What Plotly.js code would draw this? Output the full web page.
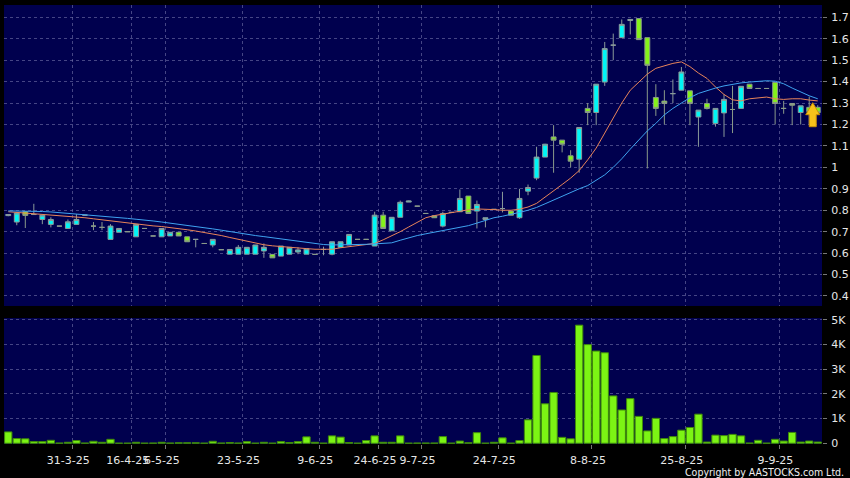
<!DOCTYPE html>
<html><head><meta charset="utf-8">
<script src="https://cdn.plot.ly/plotly-3.0.1.min.js"></script>
<style>html,body{margin:0;padding:0;background:#000;overflow:hidden}#chart{width:850px;height:478px}</style>
</head><body><div id="chart"></div>
<script>
// ---- data ----
const opens  = [0.775,0.745,0.793,0.78,0.757,0.734,0.726,0.715,0.734,0.777,0.726,0.72,0.664,0.697,0.70,0.676,0.715,0.68,0.676,0.68,0.697,0.676,0.664,0.645,0.638,0.616,0.595,0.595,0.595,0.595,0.61,0.594,0.586,0.595,0.605,0.595,0.594,0.617,0.595,0.627,0.638,0.664,0.664,0.633,0.777,0.704,0.767,0.838,0.819,0.785,0.774,0.726,0.79,0.793,0.866,0.796,0.757,0.804,0.808,0.796,0.765,0.889,0.95,1.048,1.142,1.127,1.054,1.038,1.275,1.256,1.398,1.57,1.605,1.685,1.694,1.605,1.326,1.309,1.344,1.36,1.357,1.235,1.298,1.205,1.254,1.27,1.275,1.388,1.368,1.368,1.396,1.275,1.298,1.256,1.28,1.28];
const highs  = [0.782,0.79,0.795,0.83,0.777,0.767,0.726,0.757,0.782,0.777,0.745,0.745,0.735,0.715,0.70,0.734,0.715,0.68,0.715,0.697,0.697,0.676,0.664,0.645,0.664,0.616,0.617,0.638,0.627,0.638,0.645,0.594,0.633,0.627,0.627,0.62,0.594,0.63,0.653,0.653,0.687,0.664,0.664,0.793,0.793,0.767,0.845,0.845,0.819,0.785,0.774,0.793,0.79,0.897,0.866,0.845,0.765,0.804,0.886,0.796,0.9,0.92,1.096,1.11,1.197,1.127,1.08,1.186,1.3,1.388,1.585,1.624,1.69,1.69,1.694,1.605,1.388,1.36,1.41,1.468,1.357,1.267,1.32,1.275,1.34,1.38,1.378,1.388,1.368,1.368,1.396,1.31,1.298,1.287,1.33,1.29];
const lows   = [0.772,0.73,0.717,0.78,0.735,0.72,0.726,0.715,0.734,0.777,0.707,0.707,0.664,0.697,0.70,0.676,0.715,0.68,0.676,0.68,0.68,0.653,0.627,0.645,0.627,0.616,0.595,0.595,0.595,0.595,0.578,0.578,0.586,0.595,0.595,0.595,0.594,0.59,0.59,0.627,0.638,0.664,0.664,0.633,0.715,0.704,0.767,0.838,0.819,0.785,0.765,0.72,0.79,0.793,0.785,0.715,0.72,0.804,0.79,0.777,0.76,0.87,0.94,1.048,0.975,1.07,1.0,0.975,1.197,1.197,1.38,1.5,1.605,1.62,1.596,0.995,1.24,1.2,1.30,1.36,1.197,1.096,1.27,1.19,1.142,1.16,1.275,1.368,1.368,1.368,1.2,1.25,1.197,1.2,1.2,1.25];
const closes = [0.78,0.787,0.776,0.78,0.777,0.757,0.726,0.746,0.757,0.777,0.726,0.72,0.726,0.715,0.70,0.734,0.715,0.68,0.715,0.697,0.68,0.653,0.664,0.645,0.664,0.616,0.617,0.627,0.627,0.638,0.627,0.578,0.633,0.627,0.615,0.62,0.594,0.617,0.653,0.653,0.687,0.664,0.664,0.777,0.715,0.767,0.837,0.843,0.819,0.785,0.765,0.785,0.79,0.855,0.785,0.827,0.765,0.804,0.808,0.777,0.855,0.906,1.048,1.108,1.127,1.108,1.029,1.186,1.256,1.388,1.554,1.57,1.667,1.69,1.596,1.476,1.275,1.298,1.344,1.445,1.298,1.267,1.275,1.275,1.317,1.27,1.378,1.368,1.368,1.368,1.298,1.275,1.29,1.287,1.26,1.255];
const volumeK = [0.46,0.19,0.18,0.07,0.07,0.12,0.01,0.04,0.11,0.01,0.08,0.04,0.16,0.005,0.005,0.04,0.005,0.01,0.04,0.01,0.02,0.02,0.02,0.005,0.08,0.01,0.03,0.01,0.07,0.005,0.04,0.005,0.07,0.03,0.07,0.26,0.04,0.005,0.3,0.25,0.03,0.005,0.11,0.3,0.04,0.04,0.3,0.005,0.01,0.01,0.01,0.27,0.005,0.09,0.02,0.43,0.005,0.04,0.22,0.005,0.11,0.95,3.56,1.6,2.06,0.24,0.18,4.79,4.0,3.74,3.67,1.92,1.35,1.81,1.09,0.5,1.01,0.19,0.27,0.53,0.64,1.18,0.05,0.33,0.31,0.36,0.3,0.01,0.12,0.005,0.16,0.09,0.44,0.05,0.09,0.05];
const maShort = [0.793,0.79,0.787,0.785,0.782,0.779,0.776,0.773,0.77,0.765,0.76,0.755,0.75,0.746,0.74,0.735,0.73,0.727,0.724,0.72,0.715,0.709,0.703,0.697,0.69,0.682,0.673,0.664,0.655,0.647,0.639,0.634,0.63,0.627,0.624,0.621,0.618,0.617,0.618,0.625,0.63,0.635,0.638,0.645,0.662,0.68,0.70,0.722,0.745,0.765,0.775,0.782,0.79,0.796,0.802,0.806,0.806,0.803,0.80,0.80,0.805,0.815,0.832,0.86,0.89,0.92,0.95,0.985,1.035,1.09,1.16,1.23,1.30,1.36,1.40,1.435,1.462,1.475,1.485,1.492,1.47,1.44,1.415,1.375,1.34,1.315,1.31,1.32,1.325,1.328,1.32,1.317,1.32,1.32,1.314,1.31];
const maLong = [0.797,0.797,0.796,0.795,0.794,0.792,0.789,0.786,0.783,0.779,0.776,0.772,0.768,0.765,0.762,0.758,0.755,0.75,0.745,0.74,0.736,0.731,0.725,0.719,0.713,0.707,0.70,0.694,0.688,0.682,0.677,0.672,0.667,0.662,0.657,0.651,0.644,0.64,0.638,0.638,0.638,0.64,0.641,0.643,0.646,0.648,0.66,0.672,0.682,0.69,0.698,0.705,0.713,0.72,0.728,0.74,0.752,0.765,0.772,0.78,0.79,0.80,0.813,0.83,0.848,0.866,0.883,0.90,0.915,0.94,0.965,1.0,1.04,1.085,1.13,1.17,1.205,1.245,1.275,1.30,1.325,1.345,1.358,1.37,1.38,1.388,1.394,1.398,1.402,1.404,1.402,1.39,1.37,1.352,1.334,1.32];
const tickPos = [7.5,14.5,18.5,27.5,36.5,43.5,48.5,57.5,68.5,79.5,90.5];
const tickLabels = ['31-3-25','16-4-25','6-5-25','23-5-25','9-6-25','24-6-25','9-7-25','24-7-25','8-8-25','25-8-25','9-9-25'];
const priceTicks = [0.4,0.5,0.6,0.7,0.8,0.9,1,1.1,1.2,1.3,1.4,1.5,1.6,1.7];
const volTicks = [0,1,2,3,4,5];
const volTickLabels = ['0','1K','2K','3K','4K','5K'];

const xs = closes.map((_, i) => i);
const lastX = xs[xs.length - 1];
const lastClose = closes[closes.length - 1];

const GRID = 'rgba(115,115,170,0.6)';
const DASH = '3px,3px';
const FONT = {family: 'DejaVu Sans, sans-serif', size: 11, color: '#e6e6e6'};

const traces = [
  {type: 'candlestick', x: xs, open: opens, high: highs, low: lows, close: closes,
   xaxis: 'x', yaxis: 'y', hoverinfo: 'skip', showlegend: false, whiskerwidth: 0,
   increasing: {fillcolor: '#00f6f6', line: {color: '#8a9a9a', width: 1}},
   decreasing: {fillcolor: '#84f21a', line: {color: '#8a9a8a', width: 1}}},
  {type: 'scatter', mode: 'lines', x: xs, y: maShort, xaxis: 'x', yaxis: 'y',
   line: {color: '#e8845a', width: 1}, hoverinfo: 'skip', showlegend: false},
  {type: 'scatter', mode: 'lines', x: xs, y: maLong, xaxis: 'x', yaxis: 'y',
   line: {color: '#3fa3f0', width: 1}, hoverinfo: 'skip', showlegend: false},
  {type: 'bar', x: xs, y: volumeK, xaxis: 'x2', yaxis: 'y2', width: 0.86,
   marker: {color: '#7cf414', line: {color: '#3f8a0a', width: 1}}, hoverinfo: 'skip', showlegend: false}
];

const layout = {
  width: 850, height: 478,
  paper_bgcolor: '#000', plot_bgcolor: '#00004e',
  margin: {l: 4, r: 28, t: 5, b: 34},
  boxgap: 0.18,
  showlegend: false,
  font: FONT,
  xaxis: {domain: [0, 1], anchor: 'y', range: [-0.5, 95.5], rangeslider: {visible: false},
          tickvals: tickPos, showticklabels: false, ticks: '',
          showgrid: true, gridcolor: GRID, griddash: DASH, gridwidth: 1,
          zeroline: false, showline: false, fixedrange: true},
  yaxis: {domain: [0.3144, 1], anchor: 'x', side: 'right', range: [0.3534, 1.7574],
          tickvals: priceTicks, ticks: 'outside', ticklen: 4, tickcolor: '#777',
          showgrid: true, gridcolor: GRID, griddash: DASH, gridwidth: 1,
          zeroline: false, showline: false, tickfont: FONT, ticklabelstandoff: 2},
  xaxis2: {domain: [0, 1], anchor: 'y2', range: [-0.5, 95.5], matches: 'x',
           tickvals: tickPos, ticktext: tickLabels, tickangle: 0, ticks: 'outside', ticklen: 4, tickcolor: '#777',
           showgrid: true, gridcolor: GRID, griddash: DASH, gridwidth: 1,
           zeroline: false, showline: false, tickfont: FONT, ticklabelshift: -4, ticklabelstandoff: 2},
  yaxis2: {domain: [0, 0.287], anchor: 'x2', side: 'right', range: [-0.03, 5.08],
           tickvals: volTicks, ticktext: volTickLabels, ticks: 'outside', ticklen: 4, tickcolor: '#777',
           showgrid: true, gridcolor: GRID, griddash: DASH, gridwidth: 1,
           zeroline: false, showline: false, tickfont: FONT, ticklabelstandoff: 2},
  shapes: [
    {type: 'path', xref: 'x', yref: 'y', xsizemode: 'pixel', ysizemode: 'pixel',
     xanchor: lastX, yanchor: lastClose,
     path: 'M -5,10 L 2,-2 L -1.5,-2 L -1.5,-14 L -8.5,-14 L -8.5,-2 L -12,-2 Z',
     fillcolor: '#f7c21a', line: {color: '#c98f08', width: 1}, layer: 'above'}
  ],
  annotations: [
    {text: 'Copyright by AASTOCKS.com Ltd.', xref: 'paper', yref: 'paper',
     x: 1.0293, y: -0.063, xanchor: 'right', yanchor: 'middle', showarrow: false,
     font: {family: 'DejaVu Sans Condensed, Liberation Sans Narrow, sans-serif', size: 10.5, color: '#f0f0f0'}}
  ]
};

Plotly.newPlot('chart', traces, layout, {staticPlot: true, displayModeBar: false});
</script></body></html>
